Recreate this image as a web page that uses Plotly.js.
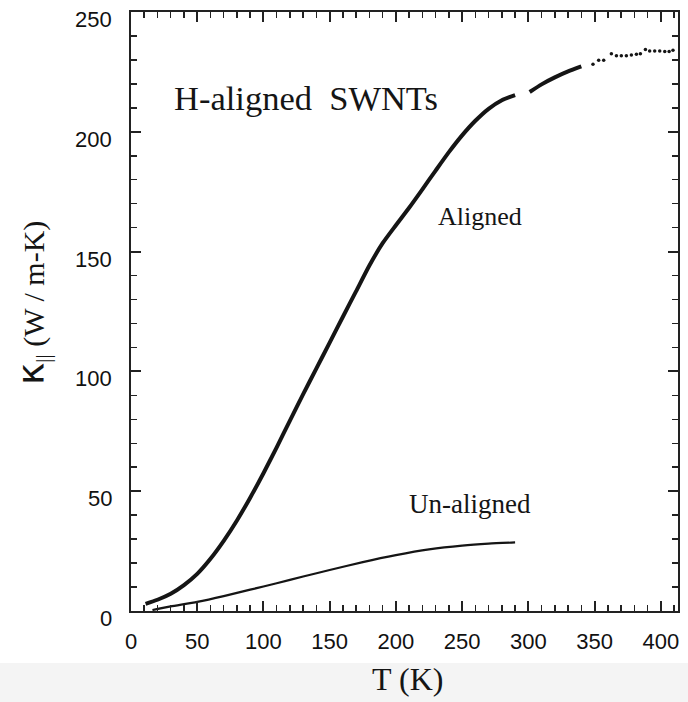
<!DOCTYPE html>
<html>
<head>
<meta charset="utf-8">
<script src="https://cdn.plot.ly/plotly-3.0.1.min.js"></script>
<style>
  html, body { margin: 0; padding: 0; background: #ffffff; }
  #chart { width: 688px; height: 702px; }
</style>
</head>
<body>
<div id="chart"></div>
<script>
// Aligned SWNT film: temperature (K) and thermal conductivity (W/m-K)
var alignedT = [11, 20, 30, 40, 50, 60, 70, 80, 90, 100, 110, 120, 130, 140, 150, 160, 170, 180, 190, 200, 210, 220, 230, 240, 250, 260, 270, 280, 290, null, 301, 310, 320, 330, 340];
var alignedK = [3, 4.7, 7.2, 10.8, 15.5, 21.8, 29.3, 37.8, 47.3, 57.5, 68.3, 79.5, 90.5, 101.3, 112, 122.8, 133.5, 144.2, 153.5, 161, 168.3, 176, 183.8, 191.5, 198.5, 204.6, 209.6, 213.2, 215.3, null, 216.6, 219.8, 222.7, 225.2, 227.3];
// Aligned, sparse high-temperature points
var alignedDotsT = [348.8, 353.1, 356.9, 362.7, 366.5, 370.2, 374, 377.8, 381.6, 384.6, 388.4, 391.6, 395.4, 399.2, 403, 406.3, 409.2];
var alignedDotsK = [228.2, 229.9, 229.9, 232.6, 231.7, 231.7, 231.7, 232.1, 232.4, 232.6, 234.4, 233.75, 233.75, 233.75, 233.5, 233.5, 234];
// Un-aligned film
var unalignedT = [16.2, 30, 50, 70, 90, 110, 130, 150, 175, 200, 225, 250, 270, 290];
var unalignedK = [0.4, 1.9, 3.8, 6.2, 8.9, 11.6, 14.4, 17.1, 20.4, 23.3, 25.7, 27.3, 28.1, 28.6];

var xTicks = [0, 50, 100, 150, 200, 250, 300, 350, 400];
var yTicks = [0, 50, 100, 150, 200, 250];

var ink = '#151515';

var traces = [
  { x: alignedT, y: alignedK, type: 'scatter', mode: 'lines', name: 'Aligned',
    line: { color: ink, width: 4, shape: 'spline', smoothing: 0.6 }, connectgaps: false },
  { x: alignedDotsT, y: alignedDotsK, type: 'scatter', mode: 'markers', name: 'Aligned (sparse)',
    marker: { color: ink, size: 3.5 } },
  { x: unalignedT, y: unalignedK, type: 'scatter', mode: 'lines', name: 'Un-aligned',
    line: { color: ink, width: 2.2, shape: 'spline', smoothing: 0.6 } }
];

var serif = '"Liberation Serif", "Times New Roman", serif';
var sans = '"Liberation Sans", Arial, sans-serif';

var axisCommon = {
  showgrid: false, zeroline: false,
  showline: true, linecolor: '#222', linewidth: 2,
  mirror: 'ticks', ticks: 'inside', ticklen: 10, tickwidth: 2, tickcolor: '#222',
  tickfont: { family: sans, size: 22, color: '#111' },
  minor: { dtick: 10, ticks: 'inside', ticklen: 6, tickwidth: 1.5, tickcolor: '#222', showgrid: false }
};

// y tick labels sit just below their tick marks in the reference, so they are
// drawn as annotations built from yTicks
var yTickLabels = yTicks.map(function (v) {
  return { text: String(v), xref: 'paper', yref: 'y', x: 0, y: v, xanchor: 'right', yanchor: 'middle',
    xshift: -17, yshift: -7.5, showarrow: false, font: { family: sans, size: 22, color: '#111' } };
});

var layout = {
  width: 688, height: 702,
  margin: { l: 131, r: 10, t: 12, b: 91 },
  paper_bgcolor: '#ffffff', plot_bgcolor: '#ffffff',
  showlegend: false,
  xaxis: Object.assign({}, axisCommon, {
    range: [0, 413], tickmode: 'array', tickvals: xTicks, ticktext: xTicks.map(String),
    ticklabelstandoff: 10
  }),
  yaxis: Object.assign({}, axisCommon, {
    range: [0, 250], tickmode: 'array', tickvals: yTicks, ticktext: yTicks.map(String),
    showticklabels: false
  }),
  shapes: [
    { type: 'rect', xref: 'paper', yref: 'paper', x0: -0.24, x1: 1.02, y0: -0.153, y1: -0.087,
      fillcolor: '#f4f4f4', line: { width: 0 }, layer: 'below' }
  ],
  annotations: yTickLabels.concat([
    { text: 'H-aligned  SWNTs', xref: 'x', yref: 'y', x: 31.3, y: 214.2, xanchor: 'left', yanchor: 'middle',
      showarrow: false, font: { family: serif, size: 34.5, color: ink } },
    { text: 'Aligned', xref: 'x', yref: 'y', x: 230.2, y: 164.6, xanchor: 'left', yanchor: 'middle',
      showarrow: false, font: { family: serif, size: 26, color: ink } },
    { text: 'Un-aligned', xref: 'x', yref: 'y', x: 208.2, y: 44.6, xanchor: 'left', yanchor: 'middle',
      showarrow: false, font: { family: serif, size: 27, color: ink } },
    { text: 'T (K)', xref: 'paper', yref: 'paper', x: 0.505, y: -0.114, xanchor: 'center', yanchor: 'middle',
      showarrow: false, font: { family: serif, size: 32, color: ink } },
    { text: '<span style="font-family:\'DejaVu Sans\';font-size:38px">κ</span><sub>||</sub> (W / m-K)',
      xref: 'paper', yref: 'paper', x: -0.181, y: 0.514, xanchor: 'center', yanchor: 'middle',
      textangle: -90, showarrow: false, font: { family: serif, size: 30, color: ink } }
  ])
};

Plotly.newPlot('chart', traces, layout, { staticPlot: true, displayModeBar: false });
</script>
</body>
</html>
